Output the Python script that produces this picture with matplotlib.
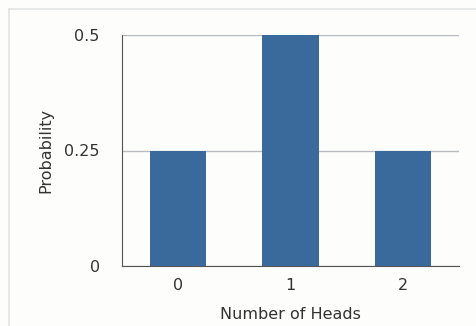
import matplotlib.pyplot as plt
from matplotlib.lines import Line2D

# Данные
heads = [0, 1, 2]
probability = [0.25, 0.5, 0.25]
tick_values = [0, 0.25, 0.5]
tick_labels = ["0", "0.25", "0.5"]

fig = plt.figure(figsize=(4.76, 3.26), dpi=100)
fig.patch.set_facecolor("#fdfdfc")

# Светлая рамка (только слева и сверху)
x0, y0 = 8.5 / 476, 1 - 8.5 / 326
fig.add_artist(Line2D([x0, x0], [0, y0], transform=fig.transFigure,
                      color="#e2e4e4", linewidth=1.2))
fig.add_artist(Line2D([x0, 1], [y0, y0], transform=fig.transFigure,
                      color="#e2e4e4", linewidth=1.2))

ax = fig.add_axes([122 / 476, 1 - 266 / 326, (459 - 122) / 476, (266 - 35) / 326])
ax.set_facecolor("#fdfdfc")

ax.bar(heads, probability, width=0.5, color="#3a6a9c", zorder=3)

ax.set_xlim(-0.5, 2.5)
ax.set_ylim(0, 0.5)
ax.set_xticks(heads)
ax.set_xticklabels([str(h) for h in heads])
ax.set_yticks(tick_values)
ax.set_yticklabels(tick_labels)

ax.grid(axis="y", color="#b8bcbf", linewidth=1.0, zorder=0)
for side in ["top", "right"]:
    ax.spines[side].set_visible(False)
ax.spines["left"].set_color("#555555")
ax.spines["bottom"].set_color("#555555")
ax.tick_params(length=0, labelsize=11.5, colors="#333333")
ax.tick_params(axis="y", pad=16)
ax.tick_params(axis="x", pad=9)

ax.set_xlabel("Number of Heads", fontsize=11.5, color="#333333", labelpad=10)
ax.set_ylabel("Probability", fontsize=11.5, color="#333333", labelpad=8)

fig.savefig("out.png", dpi=100, facecolor=fig.get_facecolor())
